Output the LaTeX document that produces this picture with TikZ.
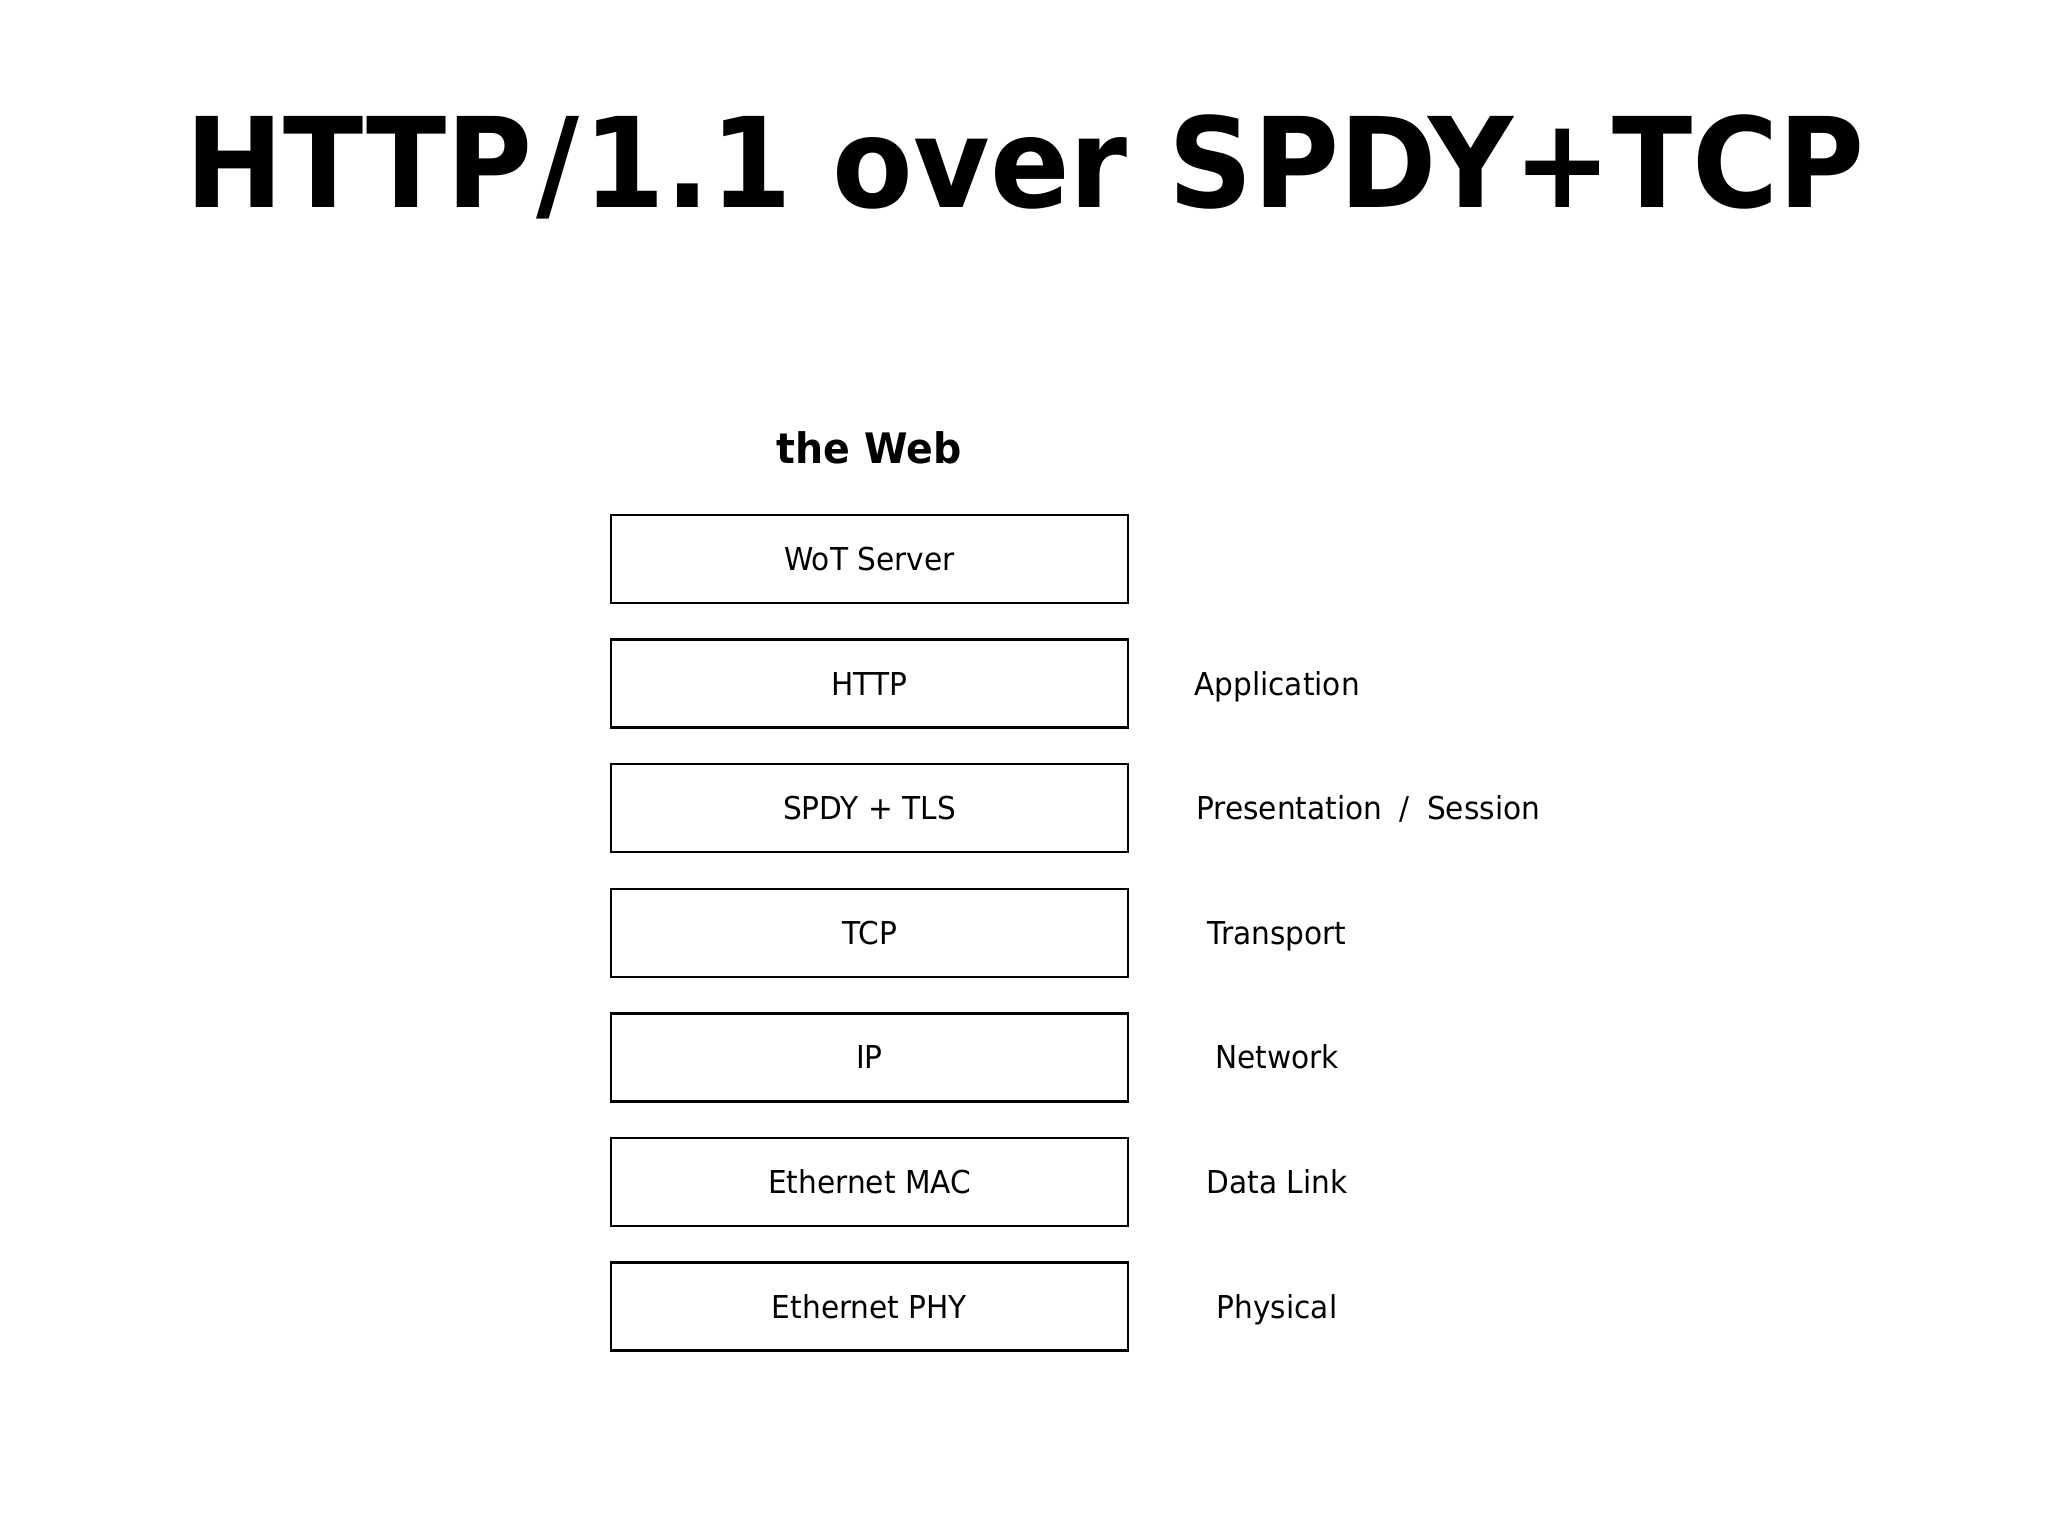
\documentclass[tikz,border=0pt]{standalone}
\usepackage{fontspec}
\setmainfont[FakeStretch=0.94]{DejaVu Sans}
\begin{document}
\begin{tikzpicture}[x=0.5pt,y=-0.5pt,
  layerbox/.style={draw=black, line width=1.2pt, minimum width=258.5pt, minimum height=44pt,
    inner sep=0pt, text height=11.5pt, text depth=0pt, font=\fontsize{15.75pt}{18pt}\selectfont},
  osilabel/.style={inner sep=0pt, text height=11.5pt, text depth=0pt, font=\fontsize{15.75pt}{18pt}\selectfont}]
\fill[white] (0,0) rectangle (2048,1536);
\useasboundingbox (0,0) rectangle (2048,1536);
\node[anchor=base, inner sep=0pt, font=\fontsize{62.5pt}{70pt}\selectfont\bfseries] (title) at (1025,207) {HTTP\hspace{2pt}/\hspace{2pt}1.1 over SPDY+TCP};
\node[anchor=base, inner sep=0pt, font=\fontsize{21pt}{24pt}\selectfont\bfseries] (web) at (869,463) {the Web};
\node[layerbox] (wot) at (869.5,559) {WoT Server};
\node[layerbox] (http) at (869.5,683.6) {HTTP};
\node[layerbox] (spdy) at (869.5,808.2) {SPDY + TLS};
\node[layerbox] (tcp) at (869.5,932.8) {TCP};
\node[layerbox] (ip) at (869.5,1057.4) {IP};
\node[layerbox] (mac) at (869.5,1182) {Ethernet MAC};
\node[layerbox] (phy) at (869.5,1306.6) {Ethernet PHY};
\node[osilabel] (app) at (1277,683.6) {Application};
\node[osilabel, anchor=west] (pres) at (1196,808.2) {Presentation\hspace{4pt} / \hspace{4pt}Session};
\node[osilabel] (trans) at (1277,932.8) {Transport};
\node[osilabel] (net) at (1277,1057.4) {Network};
\node[osilabel] (dl) at (1277,1182) {Data Link};
\node[osilabel] (phys) at (1277,1306.6) {Physical};
\end{tikzpicture}
\end{document}
